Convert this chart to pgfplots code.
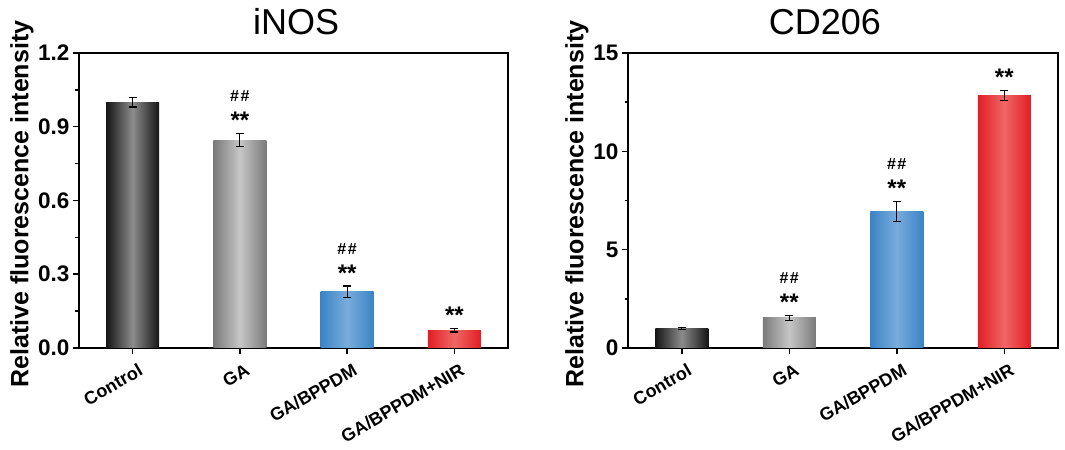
\documentclass[border=0pt]{standalone}
\usepackage{fontspec}
\setmainfont{Liberation Sans}
\usepackage{pgfplots}
\pgfplotsset{compat=1.18}
\definecolor{kA}{HTML}{151515}\definecolor{kB}{HTML}{8C8C8C}
\definecolor{gA}{HTML}{7A7A7A}\definecolor{gB}{HTML}{C6C6C6}
\definecolor{bA}{HTML}{3A84C6}\definecolor{bB}{HTML}{78ACDB}
\definecolor{rA}{HTML}{E21E24}\definecolor{rB}{HTML}{EF6666}
\pgfplotsset{
  panel/.style={
    anchor=south west, width=429bp, height=295bp, scale only axis,
    xmin=-0.5, xmax=3.5, ymin=0,
    xtick={0,1,2,3},
    xticklabels={Control,GA,GA/BPPDM,GA/BPPDM+NIR},
    tick pos=left, tick align=outside,
    major tick length=6bp, minor tick length=3.5bp,
    minor y tick num=1, minor x tick num=0,
    axis line style={line width=2.2bp},
    every tick/.style={black, line width=1.5bp},
    /pgf/number format/assume math mode=true,
    yticklabel style={font=\fontsize{22.5bp}{25bp}\selectfont\bfseries},
    xticklabel style={font=\fontsize{18bp}{21bp}\selectfont\bfseries, xshift=6bp, yshift=-4bp, rotate=30, anchor=north east},
    ylabel={Relative fluorescence intensity},
    title style={font=\fontsize{36bp}{40bp}\selectfont, anchor=base},
  },
  bar/.style 2 args={ybar, bar width=53bp, bar shift=0pt, draw=none, left color=#1, right color=#1, middle color=#2},
  eb/.style={draw=none, mark=none, forget plot,
    error bars/.cd, y dir=both, y explicit,
    error bar style={draw=black, line width=1.2bp},
    error mark options={draw=black, rotate=90, mark size=4bp, line width=1.2bp}},
}
\newcommand{\st}[2]{\node[font=\fontsize{24bp}{26bp}\selectfont\bfseries, anchor=base] at (axis cs:#1,#2) [yshift=5bp] {**};}
\newcommand{\hs}[2]{\node[font=\fontsize{16bp}{18bp}\selectfont\bfseries, anchor=base] at (axis cs:#1,#2) [yshift=32bp] {\#\kern1.5bp\#};}
\begin{document}
\begin{tikzpicture}
\begin{axis}[panel, at={(79bp,102bp)}, ymax=1.2, ytick={0,0.3,0.6,0.9,1.2},
  yticklabel={\pgfmathprintnumber[fixed,fixed zerofill,precision=1]{\tick}},
  ylabel style={at={(axis description cs:-0.133,0.488)}, anchor=center, font=\fontsize{25bp}{28bp}\selectfont\bfseries},
  title={iNOS}, title style={at={(axis description cs:0.506,1)}, yshift=12.5bp}]
\addplot[bar={kA}{kB}] coordinates {(0,1.0)};
\addplot[bar={gA}{gB}] coordinates {(1,0.846)};
\addplot[bar={bA}{bB}] coordinates {(2,0.228)};
\addplot[bar={rA}{rB}] coordinates {(3,0.072)};
\addplot[eb] coordinates {(0,1.0) +- (0,0.02) (1,0.846) +- (0,0.025) (2,0.228) +- (0,0.024) (3,0.072) +- (0,0.007)};
\st{1}{0.871}\hs{1}{0.871}
\st{2}{0.252}\hs{2}{0.252}
\st{3}{0.079}
\end{axis}
\begin{axis}[panel, at={(628bp,102bp)}, width=430bp, ymax=15, ytick={0,5,10,15},
  ylabel style={at={(axis description cs:-0.119,0.488)}, anchor=center, font=\fontsize{25bp}{28bp}\selectfont\bfseries},
  title={CD206}, title style={at={(axis description cs:0.458,1)}, yshift=13bp}]
\addplot[bar={kA}{kB}] coordinates {(0,1.0)};
\addplot[bar={gA}{gB}] coordinates {(1,1.53)};
\addplot[bar={bA}{bB}] coordinates {(2,6.93)};
\addplot[bar={rA}{rB}] coordinates {(3,12.83)};
\addplot[eb] coordinates {(0,1.0) +- (0,0.05) (1,1.53) +- (0,0.14) (2,6.93) +- (0,0.51) (3,12.83) +- (0,0.25)};
\st{1}{1.67}\hs{1}{1.67}
\st{2}{7.44}\hs{2}{7.44}
\st{3}{13.08}
\end{axis}
\pgfresetboundingbox
\path[use as bounding box] (0,0) rectangle (1065bp,450bp);
\end{tikzpicture}
\end{document}
